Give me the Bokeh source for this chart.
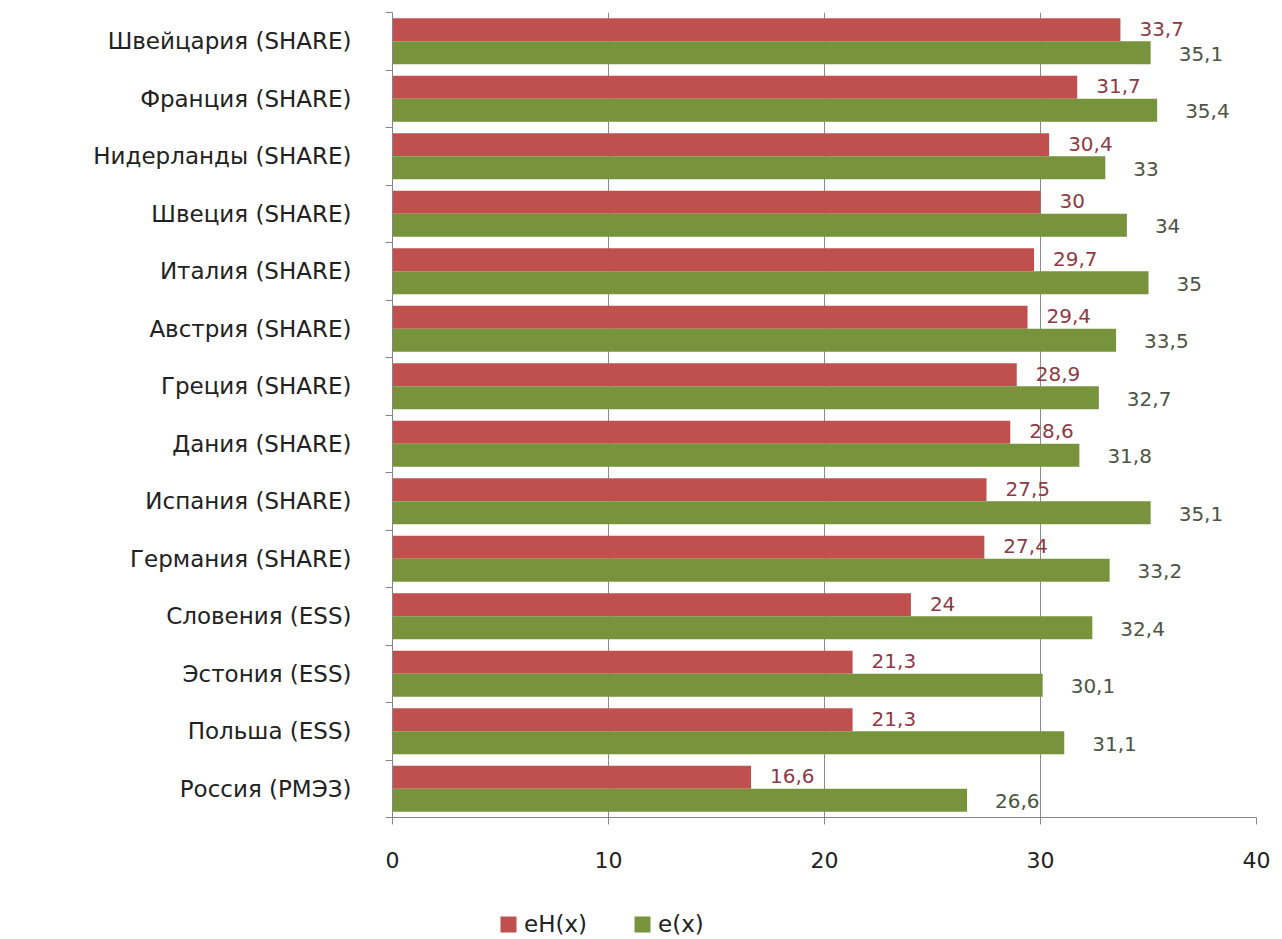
from bokeh.plotting import figure
from bokeh.models import ColumnDataSource, FixedTicker, Legend, LegendItem
from bokeh.layouts import column
from bokeh.core.properties import value
from bokeh.embed import file_html
from bokeh.resources import INLINE

# Data (top to bottom as in the chart)
countries = ["Швейцария (SHARE)", "Франция (SHARE)", "Нидерланды (SHARE)", "Швеция (SHARE)",
             "Италия (SHARE)", "Австрия (SHARE)", "Греция (SHARE)", "Дания (SHARE)",
             "Испания (SHARE)", "Германия (SHARE)", "Словения (ESS)", "Эстония (ESS)",
             "Польша (ESS)", "Россия (РМЭЗ)"]
eH = [33.7, 31.7, 30.4, 30, 29.7, 29.4, 28.9, 28.6, 27.5, 27.4, 24, 21.3, 21.3, 16.6]
e = [35.1, 35.4, 33, 34, 35, 33.5, 32.7, 31.8, 35.1, 33.2, 32.4, 30.1, 31.1, 26.6]
x_ticks = [0, 10, 20, 30, 40]
series_names = ["eH(x)", "e(x)"]

RED = "#C0504D"
GREEN = "#77933C"
FONT = "DejaVu Sans"

n = len(countries)
pos = [n - 1 - i for i in range(n)]  # top category has highest position

def fmt(v):
    return f"{v:g}".replace(".", ",")

src_red = ColumnDataSource(dict(y=[p_ + 0.2 for p_ in pos], x=eH, t=[fmt(v) for v in eH]))
src_green = ColumnDataSource(dict(y=[p_ - 0.2 for p_ in pos], x=e, t=[fmt(v) for v in e]))

p = figure(width=1280, height=880, x_range=(0, 40), y_range=(-0.5, n - 0.5),
           output_backend="svg", toolbar_location=None,
           min_border_left=392, min_border_right=24, min_border_top=12, min_border_bottom=63)
p.outline_line_color = None

p.hbar(y="y", right="x", left=0, height=0.4, source=src_red, fill_color=RED, line_color=None)
p.hbar(y="y", right="x", left=0, height=0.4, source=src_green, fill_color=GREEN, line_color=None)

p.text(x="x", y="y", text="t", source=src_red, x_offset=19, y_offset=-1, text_baseline="middle",
       text_align="left", text_font=value(FONT), text_font_size="20px", text_color="#8E3A45")
p.text(x="x", y="y", text="t", source=src_green, x_offset=28, y_offset=1, text_baseline="middle",
       text_align="left", text_font=value(FONT), text_font_size="20px", text_color="#4D5444")

# x axis
p.xaxis.ticker = FixedTicker(ticks=x_ticks)
p.xaxis.axis_line_color = "#868686"
p.xaxis.major_tick_line_color = "#868686"
p.xaxis.major_tick_out = 7
p.xaxis.major_tick_in = 0
p.xaxis.minor_tick_line_color = None
p.xaxis.major_label_standoff = 27
p.xaxis.major_label_text_font = FONT
p.xaxis.major_label_text_font_size = "22px"
p.xaxis.major_label_text_color = "#222222"

# y axis
boundaries = [i - 0.5 for i in range(n + 1)]
p.yaxis.ticker = FixedTicker(ticks=pos, minor_ticks=boundaries)
p.yaxis.major_label_overrides = {pp: c for pp, c in zip(pos, countries)}
p.yaxis.axis_line_color = "#868686"
p.yaxis.major_tick_line_color = None
p.yaxis.major_tick_out = 0
p.yaxis.major_tick_in = 0
p.yaxis.minor_tick_line_color = "#868686"
p.yaxis.minor_tick_out = 7
p.yaxis.minor_tick_in = 0
p.yaxis.major_label_standoff = 34
p.yaxis.major_label_text_font = FONT
p.yaxis.major_label_text_font_size = "23px"
p.yaxis.major_label_text_color = "#222222"

p.ygrid.grid_line_color = None
p.xgrid.ticker = FixedTicker(ticks=x_ticks)
p.xgrid.grid_line_color = "#8C8C8C"
p.xgrid.grid_line_width = 1

# Legend in a small companion figure below the chart (its bars fall outside its view)
pl = figure(width=1280, height=57, output_backend="svg", toolbar_location=None,
            x_axis_location=None, y_axis_location=None,
            min_border_left=392, min_border_right=24, min_border_top=20, min_border_bottom=0,
            x_range=(100, 101), y_range=(100, 101))
pl.outline_line_color = None
pl.grid.visible = False
lr1 = pl.hbar(y="y", right="x", left=0, height=0.4, source=src_red, fill_color=RED, line_color=None)
lr2 = pl.hbar(y="y", right="x", left=0, height=0.4, source=src_green, fill_color=GREEN, line_color=None)
legend = Legend(items=[LegendItem(label=series_names[0], renderers=[lr1]),
                       LegendItem(label=series_names[1], renderers=[lr2])],
                orientation="horizontal", location=(106, 0),
                label_text_font=FONT, label_text_font_size="23px", label_text_color="#222222",
                glyph_width=20, glyph_height=20, spacing=45, label_standoff=6,
                border_line_color=None, background_fill_alpha=0, margin=0, padding=4)
pl.add_layout(legend)

layout = column(p, pl, spacing=0)
open("out.html", "w").write(file_html(layout, INLINE))
